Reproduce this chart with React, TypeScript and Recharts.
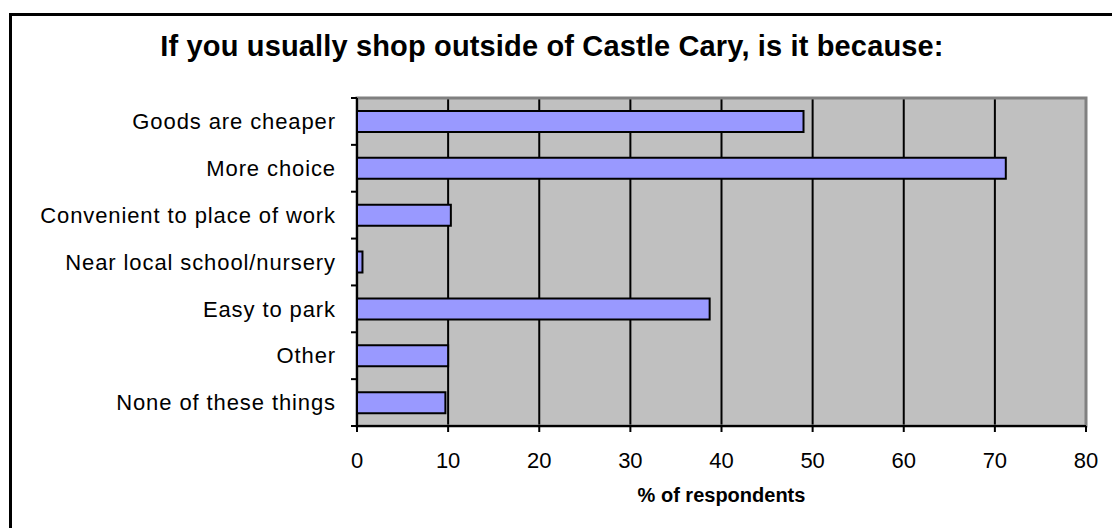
import React from "react"
import { Bar, BarChart, CartesianGrid, ReferenceArea, XAxis, YAxis } from "recharts"

// values
const categories = [
  "Goods are cheaper",
  "More choice",
  "Convenient to place of work",
  "Near local school/nursery",
  "Easy to park",
  "Other",
  "None of these things",
]
const percentages = [49, 71.2, 10.3, 0.6, 38.7, 10, 9.7]
const xTicks = [0, 10, 20, 30, 40, 50, 60, 70, 80]

const data = categories.map((name, i) => ({ name, value: percentages[i] }))

const FONT = "'Liberation Sans', Arial, sans-serif"
const TICK_MARGIN = 16
const TICK_SIZE = 6

function CategoryTick(props: any) {
  const { x, y, payload, index, visibleTicksCount } = props
  const half = payload.offset || 0
  const ax = x + TICK_MARGIN
  return (
    <g>
      <text
        x={x + 1}
        y={y}
        dy="0.35em"
        textAnchor="end"
        fontSize={22}
        letterSpacing={0.9}
        fill="#000"
        fontFamily={FONT}
      >
        {payload.value}
      </text>
      <line x1={ax} x2={ax + TICK_SIZE} y1={y - half} y2={y - half} stroke="#000" strokeWidth={2} />
      {index === visibleTicksCount - 1 && (
        <line x1={ax} x2={ax + TICK_SIZE} y1={y + half} y2={y + half} stroke="#000" strokeWidth={2} />
      )}
    </g>
  )
}

export default function App() {
  return (
    <div style={{ position: "absolute", left: 0, top: 0, width: 1112, height: 528, overflow: "hidden", background: "#fff" }}>
      <div style={{ position: "absolute", left: 9, top: 13, width: 1200, height: 600, border: "3px solid #000" }} />
      <div
        style={{
          position: "absolute",
          left: 0,
          top: 32,
          width: 1104,
          textAlign: "center",
          fontFamily: FONT,
          fontWeight: "bold",
          fontSize: 29,
          letterSpacing: 0.15,
          lineHeight: 1,
          color: "#000",
        }}
      >
        If you usually shop outside of Castle Cary, is it because:
      </div>
      <div style={{ position: "absolute", left: 0, top: 0 }}>
        <BarChart
          layout="vertical"
          width={1112}
          height={528}
          data={data}
          margin={{ top: 98, right: 26, bottom: 0, left: 0 }}
          barSize={21}
        >
          <CartesianGrid fill="#C0C0C0" stroke="#000" strokeWidth={2} horizontal={false} />
          <ReferenceArea x1={0} x2={80} fill="none" stroke="#808080" strokeWidth={3} ifOverflow="visible" />
          <XAxis
            type="number"
            domain={[0, 80]}
            ticks={xTicks}
            interval={0}
            height={102}
            axisLine={{ stroke: "#000", strokeWidth: 2 }}
            tickLine={{ stroke: "#000", strokeWidth: 2 }}
            tickSize={6}
            tickMargin={20}
            tick={{ fontSize: 22, fill: "#000", fontFamily: FONT }}
            label={{
              value: "% of respondents",
              position: "insideBottom",
              offset: 26,
              fontSize: 20,
              fontWeight: "bold",
              fill: "#000",
              fontFamily: FONT,
            }}
          />
          <YAxis
            type="category"
            dataKey="name"
            width={357}
            interval={0}
            axisLine={{ stroke: "#000", strokeWidth: 2 }}
            tickLine={false}
            tickSize={TICK_SIZE}
            tickMargin={TICK_MARGIN}
            tick={<CategoryTick />}
          />
          <Bar dataKey="value" fill="#9999FF" stroke="#000" strokeWidth={2} isAnimationActive={false} />
        </BarChart>
      </div>
    </div>
  )
}
